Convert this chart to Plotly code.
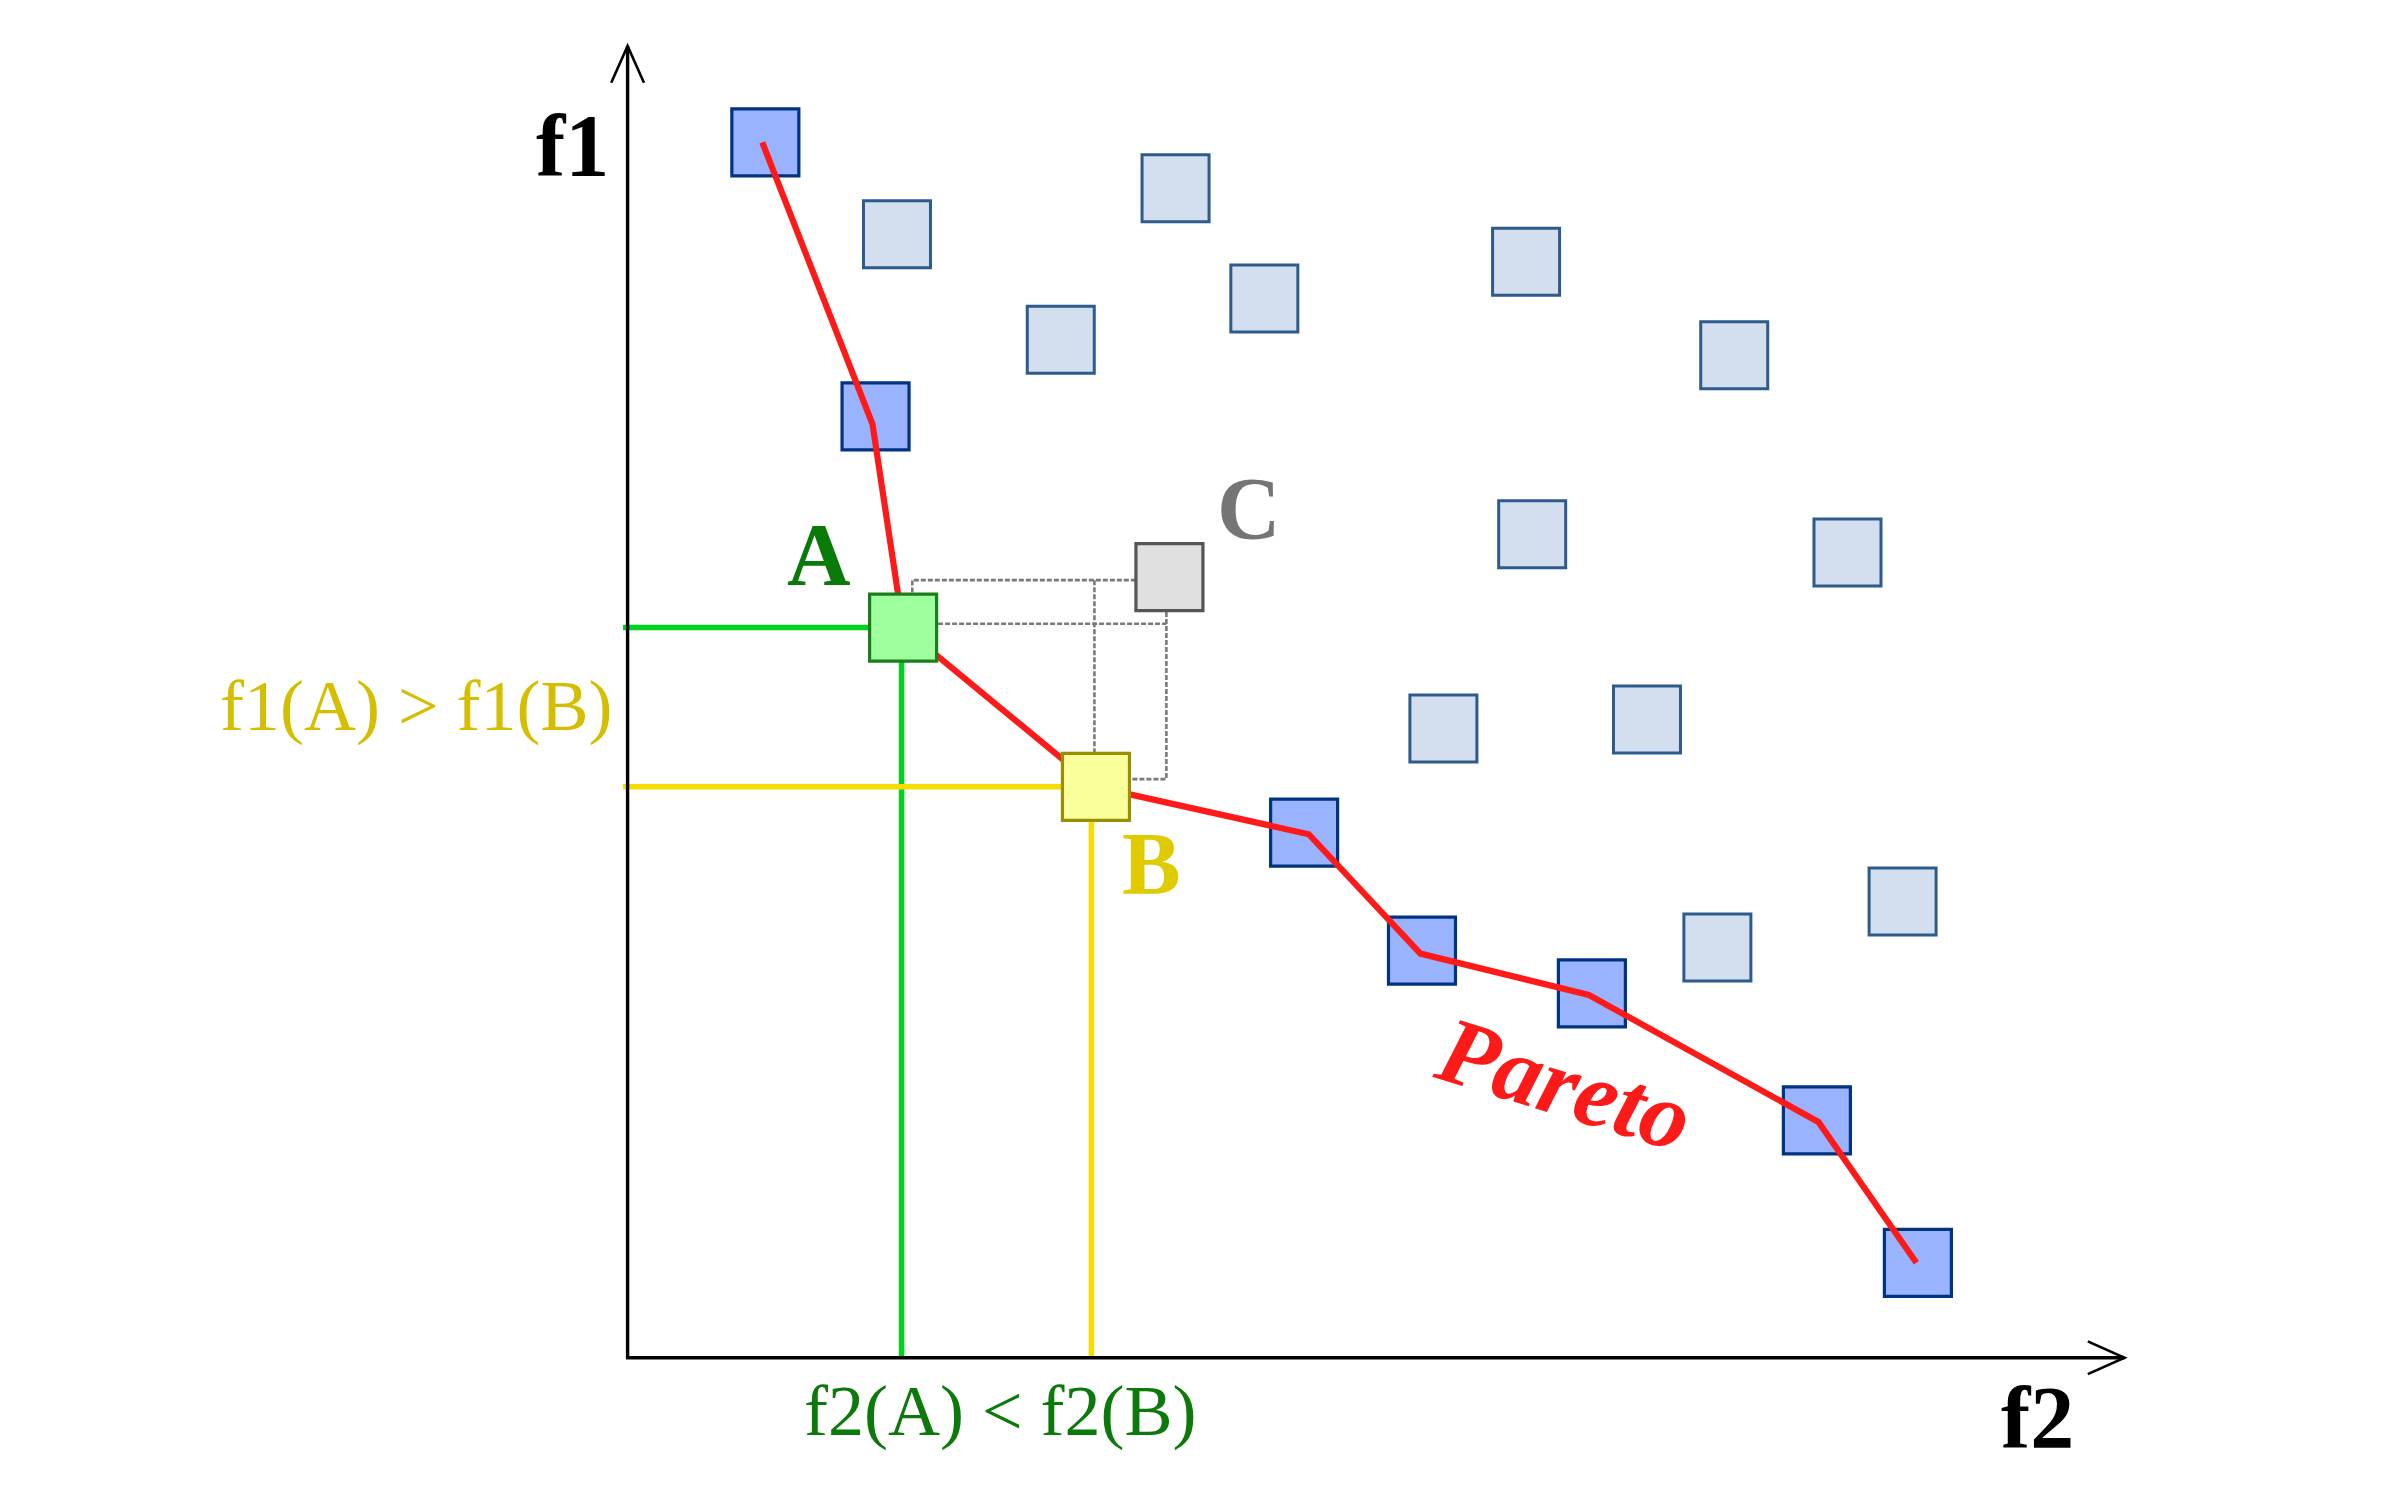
import plotly.graph_objects as go

# ---------------- data (f2 on the horizontal axis, f1 on the vertical axis) ----------------
pareto_f2 = [0.90, 1.62, 4.42, 5.19, 6.30, 7.77, 8.43]
pareto_f1 = [7.94, 6.15, 3.43, 2.66, 2.38, 1.55, 0.62]

other_f2 = [1.76, 3.58, 2.83, 4.16, 5.87, 7.23, 5.91, 7.97, 5.33, 6.66, 8.33, 7.12]
other_f1 = [7.34, 7.64, 6.65, 6.92, 7.16, 6.55, 5.38, 5.26, 4.11, 4.17, 2.98, 2.68]

point_names = ["A", "B", "C"]
point_f2 = [1.80, 3.06, 3.54]
point_f1 = [4.77, 3.73, 5.10]

front_f2 = [0.88, 1.60, 1.80, 3.06, 4.45, 5.18, 6.28, 7.78, 8.42]
front_f1 = [7.94, 6.10, 4.77, 3.73, 3.42, 2.64, 2.37, 1.54, 0.62]

dash_f2 = [1.86, 1.86, 3.54, None, 1.80, 3.52, None, 3.05, 3.05, None, 3.52, 3.52, 3.06]
dash_f1 = [4.77, 5.08, 5.08, None, 4.795, 4.795, None, 5.08, 3.73, None, 5.10, 3.78, 3.78]

axis_f2_end = 9.78
axis_f1_end = 8.57

# page body has an 8px margin -> compensate in the ranges
X_RANGE = [-4.048, 11.632]
Y_RANGE = [-0.982, 8.818]

SERIF = "Liberation Serif, Times New Roman, serif"

fig = go.Figure()

# dashed dominance boxes
fig.add_trace(go.Scatter(x=dash_f2, y=dash_f1, mode="lines",
                         line=dict(color="#7a7a7a", width=2.6, dash="5px,2px"),
                         hoverinfo="skip"))

A2, B2 = point_f2[0], point_f2[1]
A1, B1 = point_f1[0], point_f1[1]
# guide lines
fig.add_trace(go.Scatter(x=[-0.03, A2, None, A2 - 0.01, A2 - 0.01], y=[A1, A1, None, A1, 0],
                         mode="lines", line=dict(color="#00d21e", width=5.5), hoverinfo="skip"))
fig.add_trace(go.Scatter(x=[-0.03, B2, None, B2 - 0.03, B2 - 0.03], y=[B1, B1, None, B1, 0],
                         mode="lines", line=dict(color="#f7dc00", width=5.5), hoverinfo="skip"))

# squares (ordinary + Pareto-optimal)
fig.add_trace(go.Scatter(x=other_f2, y=other_f1, mode="markers",
                         marker=dict(symbol="square", size=67, color="#d3dfef",
                                     line=dict(color="#2e5a8e", width=3))))
fig.add_trace(go.Scatter(x=pareto_f2, y=pareto_f1, mode="markers",
                         marker=dict(symbol="square", size=67, color="#99b3ff",
                                     line=dict(color="#003380", width=3.2))))

# Pareto front line (drawn over the blue squares)
fig.add_trace(go.Scatter(x=front_f2, y=front_f1, mode="lines",
                         line=dict(color="#ff1a1a", width=6.2), hoverinfo="skip"))

# A, B, C
fig.add_trace(go.Scatter(x=point_f2, y=point_f1, mode="markers",
                         marker=dict(symbol="square", size=67,
                                     color=["#9eff9f", "#f9ff9a", "#e0e0e0"],
                                     line=dict(color=["#1a7f1a", "#999000", "#555555"], width=3.2))))

# axes with open arrow heads
shapes = []
ax_line = dict(color="black", width=3.4)
shapes.append(dict(type="line", xref="x", yref="y", x0=0, y0=0, x1=0, y1=axis_f1_end, line=ax_line))
shapes.append(dict(type="line", xref="x", yref="y", x0=-0.01, y0=0, x1=axis_f2_end, y1=0, line=ax_line))
hw, hl = 0.107, 0.24
shapes.append(dict(type="path", xref="x", yref="y",
                   path=f"M {-hw} {axis_f1_end - hl} L 0 {axis_f1_end} L {hw} {axis_f1_end - hl}",
                   line=dict(color="black", width=2.6)))
shapes.append(dict(type="path", xref="x", yref="y",
                   path=f"M {axis_f2_end - hl} {hw} L {axis_f2_end} 0 L {axis_f2_end - hl} {-hw}",
                   line=dict(color="black", width=2.6)))

annotations = [
    dict(x=-0.36, y=7.92, text="f1", font=dict(family=SERIF, size=88, color="black", weight="bold")),
    dict(x=9.21, y=-0.39, text="f2", font=dict(family=SERIF, size=88, color="black", weight="bold")),
    dict(x=1.25, y=5.25, text=point_names[0], font=dict(family=SERIF, size=88, color="#087a08", weight="bold")),
    dict(x=3.42, y=3.23, text=point_names[1], font=dict(family=SERIF, size=88, color="#dfcb00", weight="bold")),
    dict(x=4.06, y=5.55, text=point_names[2], font=dict(family=SERIF, size=88, color="#757575", weight="bold")),
    dict(x=-0.09, y=4.26, text="f1(A) > f1(B)", xanchor="right",
         font=dict(family=SERIF, size=72, color="#d5be00")),
    dict(x=2.43, y=-0.35, text="f2(A) < f2(B)",
         font=dict(family=SERIF, size=72, color="#0b7a0b")),
    dict(x=6.125, y=1.79, text="Pareto", textangle=17,
         font=dict(family=SERIF, size=95, color="#ff1a1a", weight="bold", style="italic")),
]
for a in annotations:
    a.setdefault("xanchor", "center")
    a.update(xref="x", yref="y", showarrow=False, yanchor="middle")

fig.update_layout(
    width=2400, height=1500,
    margin=dict(l=0, r=0, t=0, b=0),
    paper_bgcolor="white", plot_bgcolor="white",
    showlegend=False,
    xaxis=dict(range=X_RANGE, visible=False, fixedrange=True),
    yaxis=dict(range=Y_RANGE, visible=False, fixedrange=True),
    shapes=shapes,
    annotations=annotations,
)

fig.write_html("out.html")
